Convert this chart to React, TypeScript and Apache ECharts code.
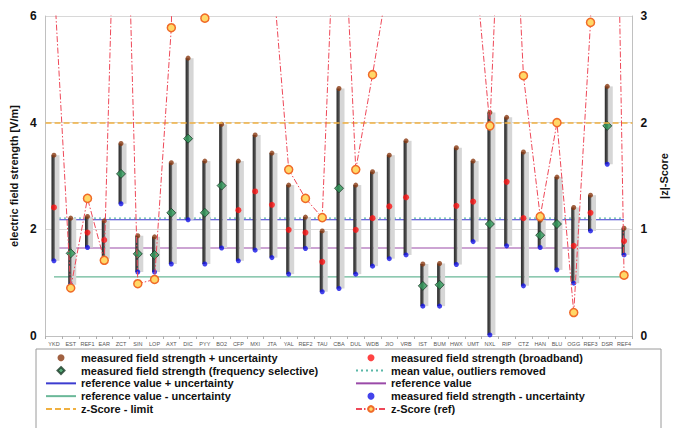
import React, { useEffect, useRef } from "react";
import * as echarts from "echarts";

const categories = ["YKD","EST","REF1","EAR","ZCT","SIN","LOP","AXT","DIC","PYY","BO2","CFP","MXI","JTA","YAL","REF2","TAU","CBA","DUL","WDB","JIO","VRB","IST","BUM","HWX","UMT","NXL","RIP","CTZ","HAN","BLU","OGG","REF3","DSR","REF4"];
// measured + uncertainty (top of bar)
const upperValues = [3.39,2.21,2.24,2.16,3.61,1.88,1.86,3.25,5.21,3.28,3.97,3.28,3.77,3.43,2.83,2.23,1.97,4.64,2.83,3.08,3.39,3.66,1.35,1.36,3.53,3.28,4.19,4.10,3.45,2.17,2.98,2.41,2.64,4.68,2.02];
// measured - uncertainty (bottom of bar)
const lowerValues = [1.41,0.96,1.66,1.45,2.48,1.20,1.20,1.35,2.18,1.35,1.65,1.41,1.61,1.47,1.16,1.64,0.83,0.89,1.16,1.31,1.45,1.52,0.56,0.56,1.34,1.77,0.02,1.69,0.94,1.66,1.24,0.99,1.97,3.22,1.52];
// broadband measured field strength
const broadbandValues = [2.41,null,1.94,1.80,null,null,null,null,null,null,null,2.36,2.71,2.46,1.99,1.94,1.39,null,1.99,2.21,2.43,2.60,null,null,2.44,2.52,null,2.89,2.21,null,null,1.69,2.31,null,1.78];
// frequency selective measured field strength
const selectiveValues = [null,1.55,null,null,3.04,1.54,1.52,2.31,3.70,2.31,2.82,null,null,null,null,null,null,2.77,null,null,null,null,0.94,0.96,null,null,2.10,null,null,1.89,2.10,null,null,3.94,null];
// |z|-score (ref)
const zScores = [3.35,0.45,1.29,0.71,6.4,0.49,0.53,2.89,12,2.98,null,null,null,3.5,1.56,1.29,1.11,5.0,1.56,2.45,3.4,null,null,null,null,3.7,1.97,5.7,2.44,1.12,2.0,0.22,2.94,10,0.57];

const referenceValue = 1.65;
const referencePlusUnc = 2.18;
const referenceMinusUnc = 1.11;
const meanOutliersRemoved = 2.21;
const zScoreLimit = 2;

const FONT = "'Liberation Sans', Arial, sans-serif";
const DIAMOND = "path://M5,0L10,5L5,10L0,5Z";

export default function App() {
  const ref = useRef<HTMLDivElement>(null);
  useEffect(() => {
    if (!ref.current) return;
    const chart = echarts.init(ref.current, null, { renderer: "svg" });
    const barData = categories.map((_, i) => [i, lowerValues[i], upperValues[i]]);
    const constLine = (v: number) => categories.map(() => v);
    const barGradient = new echarts.graphic.LinearGradient(0, 0, 1, 0, [
      { offset: 0, color: "#2a2a2a" },
      { offset: 0.6, color: "#4a4a4a" },
      { offset: 1, color: "#8a8a8a" },
    ]);
    const noSym = { opacity: 0 };
    const legendText = { fontFamily: FONT, fontSize: 11, fontWeight: "bold", color: "#111", lineHeight: 11.5 };
    const option: any = {
      animation: false,
      backgroundColor: "#ffffff",
      textStyle: { fontFamily: FONT },
      grid: { left: 44, right: 23, top: 16, bottom: 92 },
      legend: [
        {
          orient: "vertical",
          left: 40,
          top: 347,
          itemWidth: 30,
          itemHeight: 7,
          itemGap: 1.3,
          textStyle: legendText,
          data: [
            { name: "measured field strength + uncertainty" },
            { name: "measured field strength (frequency selective)" },
            { name: "reference value + uncertainty", itemStyle: noSym },
            { name: "reference value - uncertainty", itemStyle: noSym },
            { name: "z-Score - limit", itemStyle: noSym },
          ],
        },
        {
          orient: "vertical",
          left: 350,
          top: 347,
          itemWidth: 30,
          itemHeight: 7,
          itemGap: 1.3,
          textStyle: legendText,
          data: [
            { name: "measured field strength (broadband)" },
            { name: "mean value, outliers removed", itemStyle: noSym },
            { name: "reference value", itemStyle: noSym },
            { name: "measured field strength - uncertainty" },
            { name: "z-Score (ref)" },
          ],
        },
      ],
      graphic: [
        {
          type: "rect",
          shape: { x: 36, y: 349, width: 625, height: 90 },
          style: { fill: "none", stroke: "#9a9a9a", lineWidth: 1 },
          silent: true,
        },
      ],
      xAxis: {
        type: "category",
        data: categories,
        boundaryGap: true,
        axisLine: { show: true, lineStyle: { color: "#c0c0c0" } },
        axisTick: { show: true, length: 3, lineStyle: { color: "#b0b0b0" } },
        axisLabel: { interval: 0, fontSize: 5.5, color: "#555", margin: 5, fontFamily: FONT },
      },
      yAxis: [
        {
          type: "value",
          min: 0,
          max: 6,
          interval: 2,
          name: "electric field strength [V/m]",
          nameLocation: "middle",
          nameGap: 26,
          nameTextStyle: { fontFamily: FONT, fontSize: 11, fontWeight: "bold", color: "#111" },
          axisLine: { show: true, lineStyle: { color: "#c0c0c0" } },
          axisTick: { show: false },
          axisLabel: { fontFamily: FONT, fontSize: 12, fontWeight: "bold", color: "#111", margin: 9 },
          splitLine: { show: true, lineStyle: { color: "#d8d8d8", width: 1 } },
        },
        {
          type: "value",
          min: 0,
          max: 3,
          interval: 1,
          position: "right",
          name: "|z|-Score",
          nameLocation: "middle",
          nameGap: 6,
          nameRotate: 90,
          nameTextStyle: { fontFamily: FONT, fontSize: 11, fontWeight: "bold", color: "#111" },
          axisLine: { show: true, lineStyle: { color: "#c0c0c0" } },
          axisTick: { show: false },
          axisLabel: { fontFamily: FONT, fontSize: 12, fontWeight: "bold", color: "#111", margin: 8 },
          splitLine: { show: false },
        },
      ],
      series: [
        {
          name: "reference value + uncertainty",
          type: "line",
          data: constLine(referencePlusUnc),
          symbol: "none",
          lineStyle: { color: "#3c3cd0", width: 1.2 },
          z: 1,
        },
        {
          name: "mean value, outliers removed",
          type: "line",
          data: constLine(meanOutliersRemoved),
          symbol: "none",
          lineStyle: { color: "#5ab8a8", width: 1.2, type: [2, 3] },
          z: 1,
        },
        {
          name: "reference value",
          type: "line",
          data: constLine(referenceValue),
          symbol: "none",
          lineStyle: { color: "#9a4aa8", width: 1.2 },
          z: 1,
        },
        {
          name: "reference value - uncertainty",
          type: "line",
          data: constLine(referenceMinusUnc),
          symbol: "none",
          lineStyle: { color: "#6ab898", width: 1.2 },
          z: 1,
        },
        {
          name: "z-Score - limit",
          type: "line",
          yAxisIndex: 1,
          data: [],
          symbol: "none",
          lineStyle: { color: "#f0b040", width: 1.5, type: [6, 3] },
          markLine: {
            silent: true,
            symbol: ["none", "none"],
            label: { show: false },
            lineStyle: { color: "#f0b040", width: 1.5, type: [6, 3] },
            data: [{ yAxis: zScoreLimit }],
          },
          z: 1,
        },
        {
          name: "bars",
          type: "custom",
          data: barData,
          z: 3,
          renderItem: (params: any, api: any) => {
            const i = api.value(0);
            const lo = api.coord([i, api.value(1)]);
            const hi = api.coord([i, api.value(2)]);
            const x = lo[0];
            const h = lo[1] - hi[1];
            return {
              type: "group",
              children: [
                { type: "rect", shape: { x: x + 1, y: hi[1], width: 4.5, height: h }, style: { fill: "#d6d6d6" } },
                { type: "rect", shape: { x: x - 2.5, y: hi[1], width: 3.5, height: h }, style: { fill: barGradient } },
              ],
            };
          },
        },
        {
          name: "measured field strength + uncertainty",
          type: "scatter",
          data: upperValues,
          symbol: "circle",
          symbolSize: 5,
          itemStyle: { color: "#8a3a12" },
          z: 4,
        },
        {
          name: "measured field strength - uncertainty",
          type: "scatter",
          data: lowerValues,
          symbol: "circle",
          symbolSize: 5,
          itemStyle: { color: "#1414e6" },
          z: 4,
        },
        {
          name: "measured field strength (broadband)",
          type: "scatter",
          data: broadbandValues,
          symbol: "circle",
          symbolSize: 6,
          itemStyle: { color: "#ff1414" },
          z: 4,
        },
        {
          name: "measured field strength (frequency selective)",
          type: "scatter",
          data: selectiveValues,
          symbol: DIAMOND,
          symbolSize: 9,
          symbolKeepAspect: true,
          itemStyle: { color: "#2f9a5a", borderColor: "#1b3b28", borderWidth: 1 },
          z: 4,
        },
        {
          name: "z-Score (ref)",
          type: "line",
          yAxisIndex: 1,
          data: zScores,
          connectNulls: false,
          clip: true,
          symbol: "circle",
          symbolSize: 8,
          showAllSymbol: true,
          itemStyle: { color: "#ffd868", borderColor: "#f06a28", borderWidth: 1.5 },
          lineStyle: { color: "#ee4858", width: 1, type: [6, 2, 1.5, 2] },
          z: 5,
        },
      ],
    };
    chart.setOption(option);
    return () => chart.dispose();
  }, []);
  return (
    <div
      ref={ref}
      style={{ position: "fixed", left: 0, top: 0, width: 677, height: 428, background: "#fff" }}
    />
  );
}
